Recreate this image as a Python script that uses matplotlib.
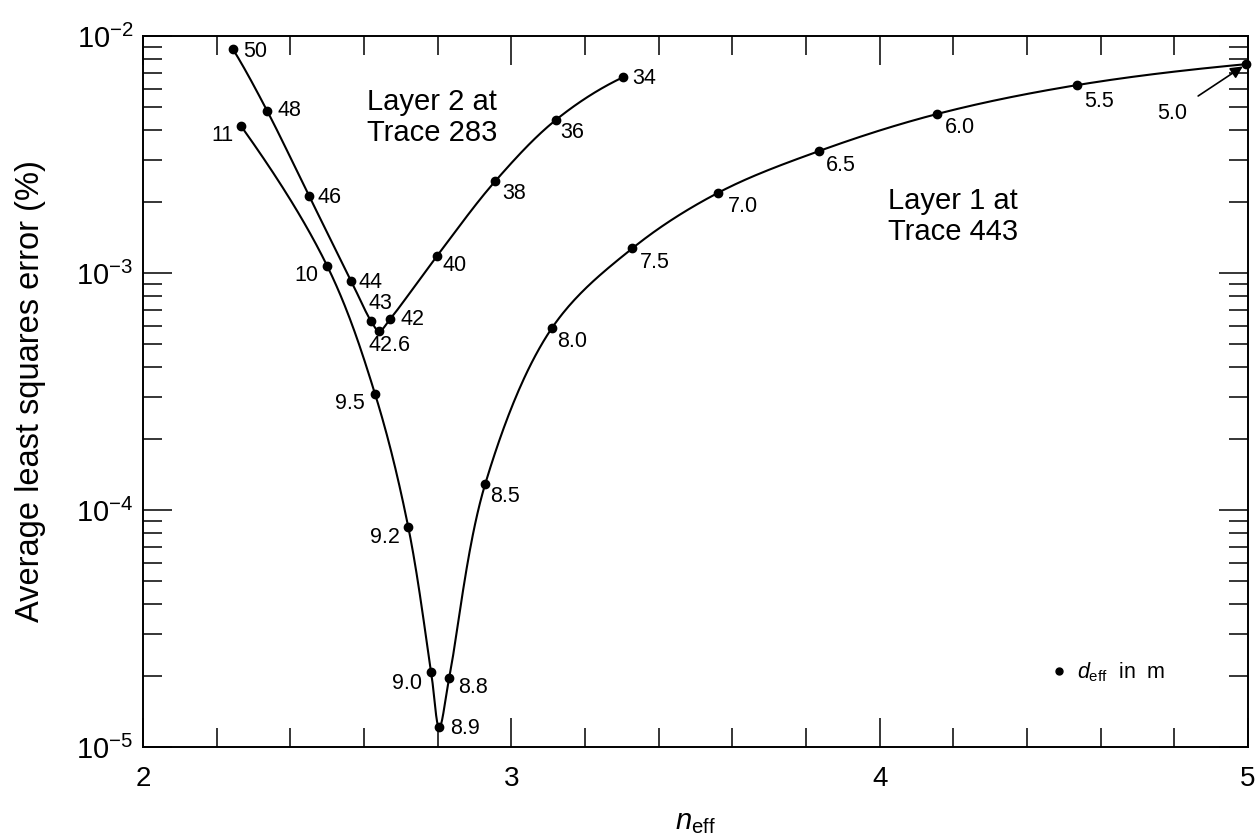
import numpy as np
import matplotlib
matplotlib.use("Agg")
import matplotlib.pyplot as plt
from matplotlib.lines import Line2D
from matplotlib.ticker import MultipleLocator, LogLocator, NullFormatter

plt.rcParams['font.family'] = ['Liberation Sans', 'DejaVu Sans']
plt.rcParams['mathtext.fontset'] = 'custom'
plt.rcParams['mathtext.rm'] = 'Liberation Sans'
plt.rcParams['mathtext.it'] = 'Liberation Sans:italic'

# Layer 2 at Trace 283 (d_eff from 50 m down to 34 m)
l2_labels = ["50", "48", "46", "44", "43", "42.6", "42", "40", "38", "36", "34"]
l2_n = [2.244, 2.337, 2.451, 2.565, 2.619, 2.641, 2.671, 2.798, 2.956, 3.121, 3.303]
l2_err = [8.8e-3, 4.83e-3, 2.11e-3, 9.25e-4, 6.27e-4, 5.69e-4, 6.4e-4, 1.18e-3, 2.44e-3, 4.43e-3, 6.7e-3]

# Layer 1 at Trace 443 (d_eff from 11 m down to 5.0 m)
l1_labels = ["11", "10", "9.5", "9.2", "9.0", "8.9", "8.8", "8.5", "8.0", "7.5", "7.0", "6.5", "6.0", "5.5", "5.0"]
l1_n = [2.266, 2.500, 2.630, 2.720, 2.782, 2.804, 2.831, 2.929, 3.110, 3.328, 3.561, 3.835, 4.156, 4.536, 4.995]
l1_err = [4.17e-3, 1.07e-3, 3.08e-4, 8.47e-5, 2.07e-5, 1.21e-5, 1.95e-5, 1.29e-4, 5.86e-4,
          1.27e-3, 2.18e-3, 3.27e-3, 4.69e-3, 6.21e-3, 7.61e-3]

# label placement: (dx, dy) in pixels, horizontal alignment
l2_pos = [(10, -2, 'left'), (10, 0, 'left'), (8, -1, 'left'), (7, -1, 'left'), (9, 18, 'center'),
          (10, -14, 'center'), (10, -1, 'left'), (5, -10, 'left'), (7, -12, 'left'), (4, -13, 'left'),
          (9, -1, 'left')]
l1_pos = [(-8, -9, 'right'), (-9, -9, 'right'), (-10, -9, 'right'), (-8, -10, 'right'), (-9, -11, 'right'),
          (11, -1, 'left'), (9, -9, 'left'), (5, -13, 'left'), (5, -13, 'left'), (8, -14, 'left'),
          (10, -14, 'left'), (7, -14, 'left'), (8, -14, 'left'), (7, -16, 'left'), None]


def smooth(xs, ys, n=40):
    # centripetal Catmull-Rom through the points, in screen-like (x, log y) space
    P = np.column_stack([np.array(xs) * 368.3, np.log10(ys) * 237.0])
    start = 3 * P[0] - 3 * P[1] + P[2]
    end = 3 * P[-1] - 3 * P[-2] + P[-3]
    P = np.vstack([start, P, end])
    out = []
    for i in range(1, len(P) - 2):
        p0, p1, p2, p3 = P[i - 1], P[i], P[i + 1], P[i + 2]
        t0 = 0.0
        t1 = t0 + np.linalg.norm(p1 - p0) ** 0.5
        t2 = t1 + np.linalg.norm(p2 - p1) ** 0.5
        t3 = t2 + np.linalg.norm(p3 - p2) ** 0.5
        t = np.linspace(t1, t2, n)[:, None]
        A1 = (t1 - t) / (t1 - t0) * p0 + (t - t0) / (t1 - t0) * p1
        A2 = (t2 - t) / (t2 - t1) * p1 + (t - t1) / (t2 - t1) * p2
        A3 = (t3 - t) / (t3 - t2) * p2 + (t - t2) / (t3 - t2) * p3
        B1 = (t2 - t) / (t2 - t0) * A1 + (t - t0) / (t2 - t0) * A2
        B2 = (t3 - t) / (t3 - t1) * A2 + (t - t1) / (t3 - t1) * A3
        C = (t2 - t) / (t2 - t1) * B1 + (t - t1) / (t2 - t1) * B2
        out.append(C)
    C = np.vstack(out)
    return C[:, 0] / 368.3, 10 ** (C[:, 1] / 237.0)


fig = plt.figure(figsize=(12.55, 8.34), dpi=100)
ax = fig.add_axes([0.114, 0.1043, 0.8805, 0.8525])

for xs, ys in [(l2_n, l2_err), (l1_n, l1_err)]:
    sx, sy = smooth(xs, ys)
    ax.plot(sx, sy, color='black', lw=1.5)
    ax.plot(xs, ys, 'o', color='black', ms=6, clip_on=False)

for labels, xs, ys, pos in [(l2_labels, l2_n, l2_err, l2_pos), (l1_labels, l1_n, l1_err, l1_pos)]:
    for lab, x, y, p in zip(labels, xs, ys, pos):
        if p is None:
            continue
        dx, dy, ha = p
        ax.annotate(lab, (x, y), xytext=(dx, dy), textcoords='offset pixels',
                    ha=ha, va='center', fontsize=15.5)

ax.annotate("5.0", (l1_n[-1], l1_err[-1]), xytext=(-74, -49), textcoords='offset pixels',
            ha='center', va='center', fontsize=15.5,
            arrowprops=dict(arrowstyle='-|>', color='black', lw=1.2, mutation_scale=18,
                            shrinkA=7, shrinkB=3))

ax.text(0.2027, 0.927, "Layer 2 at\nTrace 283", transform=ax.transAxes,
        ha='left', va='top', fontsize=21, linespacing=1.12)
ax.text(0.674, 0.7876, "Layer 1 at\nTrace 443", transform=ax.transAxes,
        ha='left', va='top', fontsize=21, linespacing=1.12)

ax.legend(handles=[Line2D([], [], marker='o', ls='none', color='black', ms=5)],
          labels=[r"$d_{\mathrm{eff}}$  in  m"], loc='center left',
          bbox_to_anchor=(0.802, 0.105), frameon=False, fontsize=15.5,
          handletextpad=0.3, handlelength=1.0)

ax.set_yscale('log')
ax.set_xlim(2, 5)
ax.set_ylim(1e-5, 1e-2)
ax.set_xticks([2, 3, 4, 5])
ax.xaxis.set_minor_locator(MultipleLocator(0.2))
ax.yaxis.set_major_locator(LogLocator(base=10, numticks=10))
ax.yaxis.set_minor_locator(LogLocator(base=10, subs=np.arange(2, 10), numticks=20))
ax.yaxis.set_minor_formatter(NullFormatter())

ax.tick_params(which='both', direction='in', top=True, right=True, width=1.1)
ax.tick_params(which='major', length=21)
ax.tick_params(which='minor', length=14)
ax.tick_params(axis='x', which='major', labelsize=20, pad=14)
ax.tick_params(axis='y', which='major', labelsize=21, pad=7)
for s in ax.spines.values():
    s.set_linewidth(1.4)

ax.set_xlabel(r"$n_{\mathrm{eff}}$", fontsize=21)
ax.set_ylabel("Average least squares error (%)", fontsize=23.5)
ax.xaxis.set_label_coords(0.5, -0.086)
ax.yaxis.set_label_coords(-0.088, 0.5)

fig.savefig("out.png", dpi=100)
